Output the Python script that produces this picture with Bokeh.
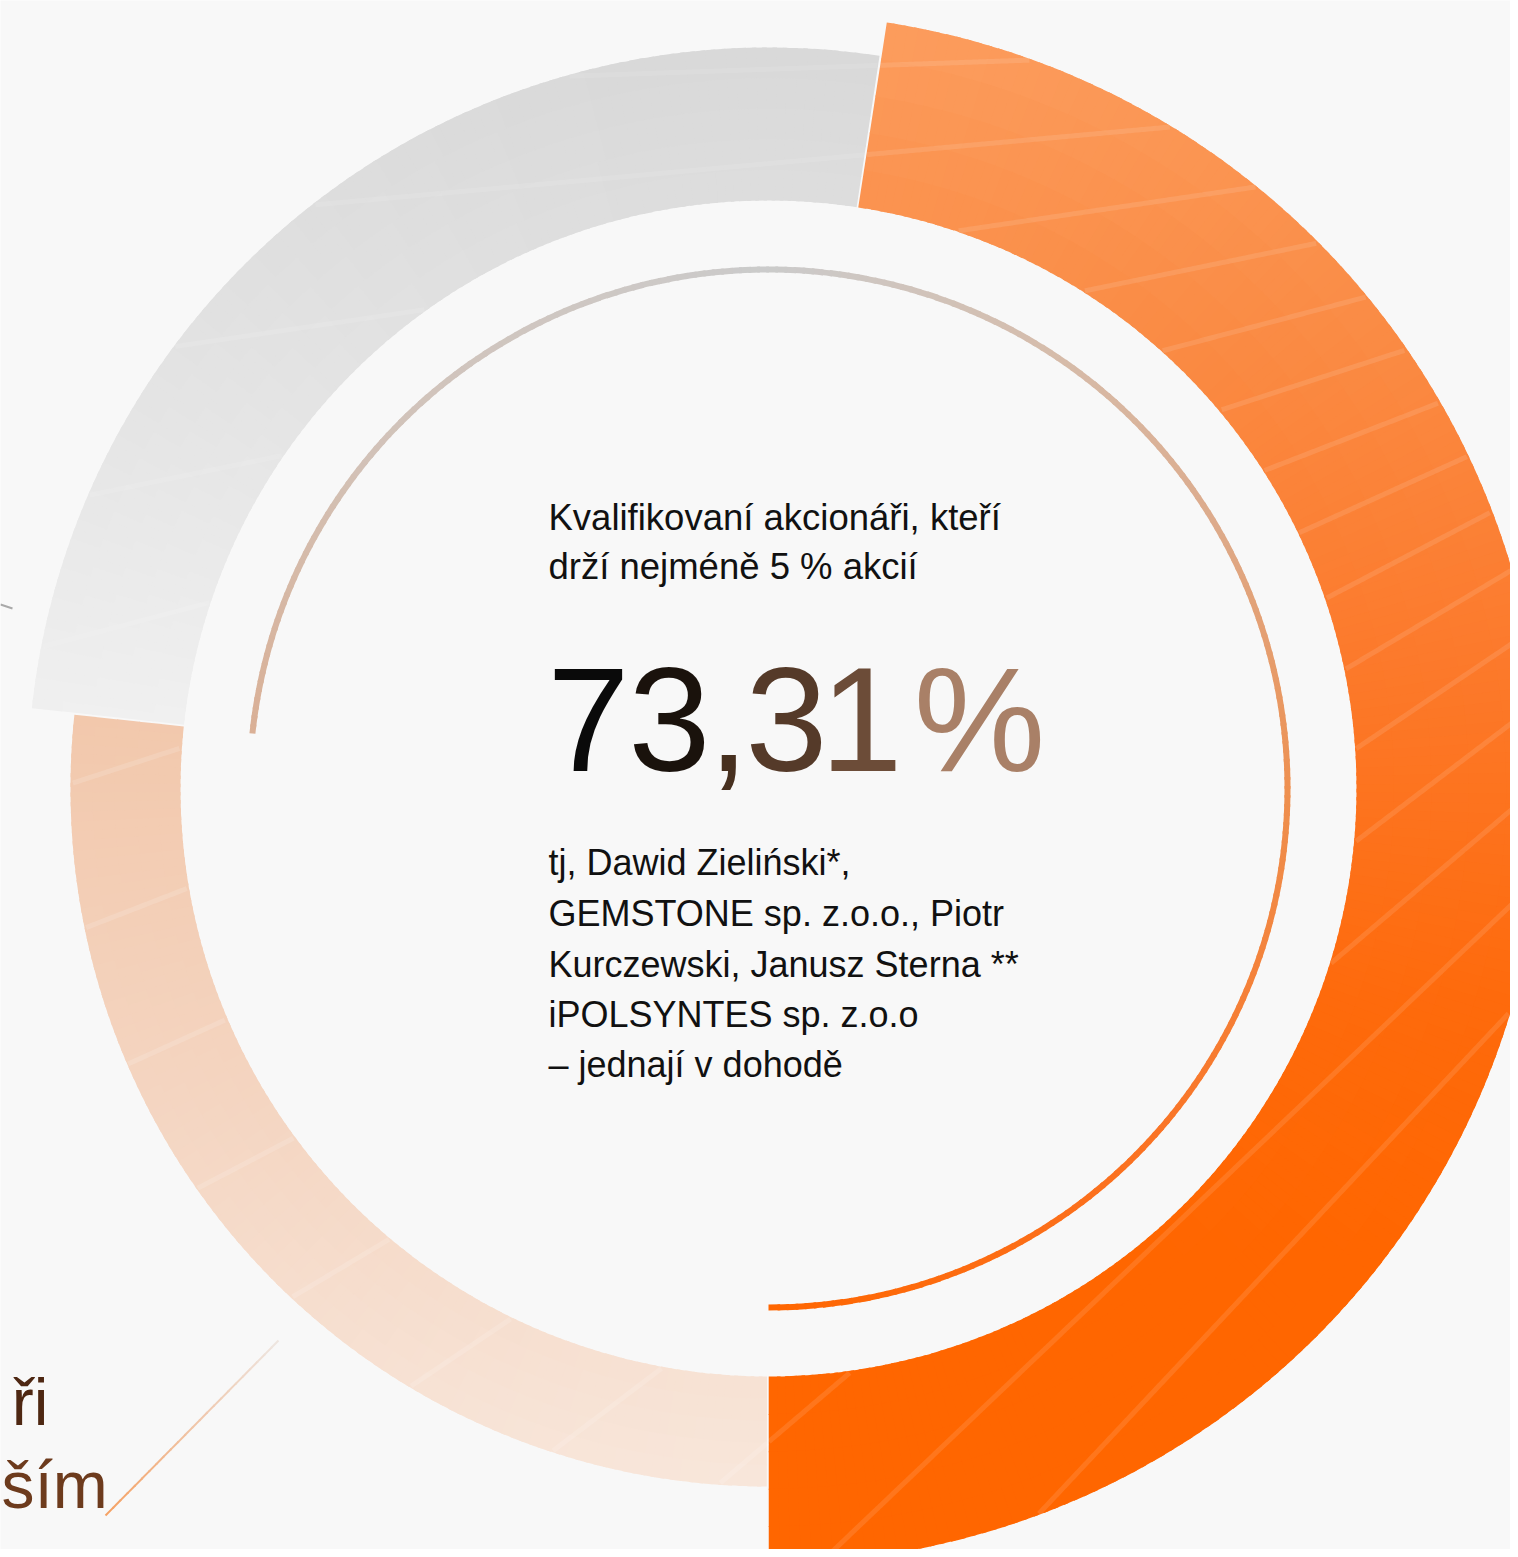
import math
import numpy as np
from bokeh.plotting import figure
from bokeh.models import Range1d, ColumnDataSource
from bokeh.core.properties import value
from bokeh.embed import file_html
from bokeh.resources import INLINE

# ---------------- data ----------------
segment_names = ["Kvalifikovaní akcionáři", "Akcionáři s menším podílem", "Ostatní"]
segment_shares = [47.6, 26.69, 25.71]          # % of the outer ring, clockwise from the top
qualified_share = 73.31                          # inner arc, %
headline_lines = ["Kvalifikovaní akcionáři, kteří", "drží nejméně 5 % akcií"]
holder_lines = ["tj, Dawid Zieliński*,",
                "GEMSTONE sp. z.o.o., Piotr",
                "Kurczewski, Janusz Sterna **",
                "iPOLSYNTES sp. z.o.o",
                "– jednají v dohodě"]
side_label_lines = ["ři", "ším"]

# ---------------- layout / style ----------------
W_PX, H_PX = 1510, 1549
CX, CY = 768.0, 788.0          # centre in pixel coordinates (y down)
START = 81.3                   # degrees, where the ring starts (clockwise)
R_IN = 588.0
R_OUT = [775.0, 698.0, 741.0]
GAP = 0.08                     # degrees trimmed at each segment end
ARC_R = 519.0
FONT = "Liberation Sans"
BASE_SHIFT = 0.36              # em, correction for the text baseline


def ty(baseline_px, fs):
    return -(baseline_px - BASE_SHIFT * fs)


seg_stops = [
    [(20, "#FC9D5E"), (300, "#FA8D47"), (650, "#FC7A2C"), (1000, "#FE6A0C"), (1250, "#FF6600")],
    [(715, "#F2C8AC"), (1100, "#F4D5C1"), (1480, "#F8E6DA")],
    [(40, "#D8D8D8"), (400, "#E4E4E4"), (720, "#F0F0F0")],
]
arc_stops = [(-90, "#FF6600"), (-45, "#FB7222"), (0, "#EE9050"), (30, "#DDAA8A"),
             (55, "#D6BBA9"), (90, "#CBCBCB"), (140, "#D2C2B8"), (175, "#DAAF94")]


def hex2rgb(h):
    h = h.lstrip("#")
    return [int(h[i:i + 2], 16) for i in (0, 2, 4)]


def interp(stops, v):
    if v <= stops[0][0]:
        return stops[0][1]
    if v >= stops[-1][0]:
        return stops[-1][1]
    for (a, ca), (b, cb) in zip(stops[:-1], stops[1:]):
        if a <= v <= b:
            t = (v - a) / (b - a)
            A, B = hex2rgb(ca), hex2rgb(cb)
            c = [round(A[i] + (B[i] - A[i]) * t) for i in range(3)]
            return "#%02x%02x%02x" % tuple(c)


p = figure(width=W_PX, height=H_PX,
           x_range=Range1d(0, W_PX), y_range=Range1d(-H_PX, 0),
           x_axis_type=None, y_axis_type=None,
           output_backend="svg", toolbar_location=None, min_border=0)
p.grid.visible = False
p.outline_line_color = None
p.background_fill_color = "#F8F8F8"
p.border_fill_color = "#F8F8F8"

# ---------------- outer ring (gradient made of thin wedges) ----------------
spans = [s * 3.6 for s in segment_shares]
bounds = []
a = START
for sp in spans:
    bounds.append((a, a - sp))
    a -= sp

W = dict(x=[], y=[], ri=[], ro=[], sa=[], ea=[], c=[])
DA = 0.8
NR = 5
for i, (a0, a1) in enumerate(bounds):
    lo, hi = a1 + GAP, a0 - GAP
    n = int(math.ceil((hi - lo) / DA))
    step = (hi - lo) / n
    dr = (R_OUT[i] - R_IN) / NR
    for j in range(n):
        s = lo + j * step
        e = min(hi, s + step + 0.35)
        mid = math.radians(lo + (j + 0.5) * step)
        for k in range(NR):
            r0 = R_IN + k * dr
            r1 = min(R_OUT[i], r0 + dr + 1.0)
            rm = (r0 + r1) / 2
            py = CY - rm * math.sin(mid)
            W["x"].append(CX); W["y"].append(-CY)
            W["ri"].append(r0); W["ro"].append(r1)
            W["sa"].append(math.radians(s)); W["ea"].append(math.radians(e))
            W["c"].append(interp(seg_stops[i], py))
p.annular_wedge(x="x", y="y", inner_radius="ri", outer_radius="ro",
                start_angle="sa", end_angle="ea", fill_color="c", line_color=None,
                source=ColumnDataSource(W))

# ---------------- faint stripes over the ring ----------------
FX, FY = 2450.0, 10.0
cum = np.cumsum(spans)
stripe_alpha = [0.11, 0.14, 0.1]
sx, sy, sa_ = [], [], []
for ang in np.arange(178.0, 128.0, -3.2):
    d = math.radians(ang)
    t = np.arange(0, 3800, 2.0)
    px = FX + t * math.cos(d)
    py = FY + t * math.sin(d)
    dx, dy = px - CX, CY - py
    r = np.hypot(dx, dy)
    th = np.degrees(np.arctan2(dy, dx))
    cw = (START - th) % 360
    seg = np.where(cw < cum[0], 0, np.where(cw < cum[1], 1, 2))
    rout = np.array(R_OUT)[seg]
    inside = (r > R_IN + 1) & (r < rout - 1)
    run = []
    prev = None
    for q in range(len(t)):
        key = seg[q] if inside[q] else None
        if key is not None and key == prev:
            run.append(q)
        else:
            if prev is not None and len(run) > 2:
                sx.append(list(px[run])); sy.append(list(-py[run])); sa_.append(stripe_alpha[prev])
            run = [q] if key is not None else []
        prev = key
    if prev is not None and len(run) > 2:
        sx.append(list(px[run])); sy.append(list(-py[run])); sa_.append(stripe_alpha[prev])
p.multi_line(xs="xs", ys="ys", line_color="white", line_alpha="a", line_width=5,
             source=ColumnDataSource(dict(xs=sx, ys=sy, a=sa_)))

# ---------------- inner thin arc (73.31 %) ----------------
arc_span = qualified_share * 3.6
A = dict(x=[], y=[], sa=[], ea=[], c=[])
n = int(math.ceil(arc_span / 1.0))
step = arc_span / n
for j in range(n):
    s = -90 + j * step
    e = min(-90 + arc_span, s + step + 0.3)
    A["x"].append(CX); A["y"].append(-CY)
    A["sa"].append(math.radians(s)); A["ea"].append(math.radians(e))
    A["c"].append(interp(arc_stops, s + step / 2))
p.arc(x="x", y="y", radius=ARC_R, start_angle="sa", end_angle="ea",
      line_color="c", line_width=6, line_cap="butt", source=ColumnDataSource(A))

# ---------------- leader lines ----------------
p.line(x=[0, 12], y=[-604, -608], line_color="#A9A9A9", line_width=2)
L = dict(x0=[], y0=[], x1=[], y1=[], c=[])
x0, y0, x1, y1 = 105.0, 1515.0, 278.0, 1340.0
NL = 24
for j in range(NL):
    t0, t1 = j / NL, min(1.0, (j + 1.15) / NL)
    L["x0"].append(x0 + (x1 - x0) * t0); L["y0"].append(-(y0 + (y1 - y0) * t0))
    L["x1"].append(x0 + (x1 - x0) * t1); L["y1"].append(-(y0 + (y1 - y0) * t1))
    L["c"].append(interp([(0, "#F5A062"), (0.5, "#F0C4A6"), (1, "#EEE6E1")], (t0 + t1) / 2))
p.segment(x0="x0", y0="y0", x1="x1", y1="y1", line_color="c", line_width=2,
          source=ColumnDataSource(L))

# ---------------- texts ----------------
FS_H = 36.5
p.text(x=[548] * len(headline_lines), y=[ty(530, FS_H), ty(579, FS_H)], text=headline_lines,
       text_font=value(FONT), text_font_size=f"{FS_H}px", text_color="#111111",
       text_align="left", text_baseline="alphabetic")

FS_B = 36
p.text(x=[548] * len(holder_lines), y=[ty(b, FS_B) for b in (875, 926, 977, 1027, 1077)],
       text=holder_lines,
       text_font=value(FONT), text_font_size=f"{FS_B}px", text_color="#111111",
       text_align="left", text_baseline="alphabetic")

FS_BIG = 148
big = "{:.2f}".format(qualified_share).replace(".", ",") + "%"
big_x = [588, 669, 728, 786, 861, 979]
big_c = ["#0a0a0a", "#1a120c", "#47301f", "#553a29", "#6c4c38", "#a98067"]
p.text(x=big_x, y=[ty(772, FS_BIG)] * len(big), text=list(big),
       text_font=value(FONT), text_font_size=f"{FS_BIG}px", text_color=big_c,
       text_align="center", text_baseline="alphabetic")

FS_S = 66
p.text(x=[48, 1], y=[ty(1425, FS_S), ty(1508, FS_S)], text=side_label_lines,
       text_font=value(FONT), text_font_size=f"{FS_S}px", text_color=["#4e2712", "#6d3b1d"],
       text_align=["right", "left"], text_baseline="alphabetic")

open("out.html", "w").write(file_html(p, INLINE))
